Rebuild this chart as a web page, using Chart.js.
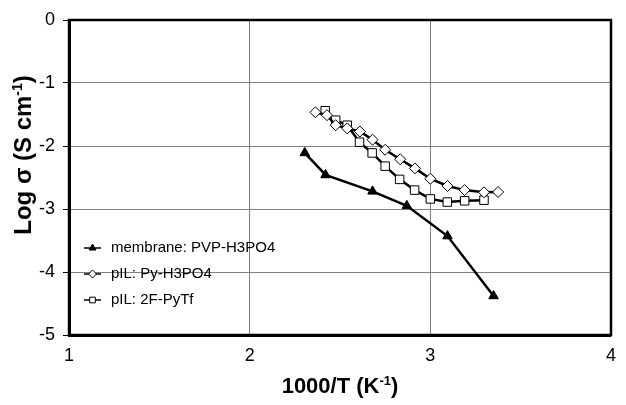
<!DOCTYPE html>
<html>
<head>
<meta charset="utf-8">
<script src="https://cdn.jsdelivr.net/npm/chart.js@4.4.0/dist/chart.umd.min.js"></script>
<style>
html, body { margin: 0; padding: 0; background: #fff; }
#wrap { width: 626px; height: 405px; }
</style>
</head>
<body>
<div id="wrap"><canvas id="chart"></canvas></div>
<script>
// membrane: PVP-H3PO4
var membraneX = [2.305, 2.42, 2.68, 2.87, 3.095, 3.35];
var membraneY = [-2.11, -2.46, -2.72, -2.95, -3.43, -4.38];
// pIL: Py-H3PO4
var pyX = [2.364, 2.428, 2.476, 2.54, 2.61, 2.68, 2.75, 2.833, 2.915, 3.0, 3.095, 3.19, 3.297, 3.375];
var pyY = [-1.465, -1.51, -1.67, -1.72, -1.77, -1.9, -2.06, -2.21, -2.355, -2.52, -2.635, -2.70, -2.735, -2.73];
// pIL: 2F-PyTf
var tfX = [2.418, 2.476, 2.54, 2.608, 2.678, 2.75, 2.83, 2.913, 3.0, 3.094, 3.19, 3.297];
var tfY = [-1.44, -1.59, -1.67, -1.94, -2.11, -2.32, -2.53, -2.70, -2.84, -2.89, -2.87, -2.86];

var seriesNames = ['membrane: PVP-H3PO4', 'pIL: Py-H3PO4', 'pIL: 2F-PyTf'];
var xTicks = [1, 2, 3, 4];
var yTicks = [-5, -4, -3, -2, -1, 0];

function pts(xs, ys) {
	var out = [];
	for (var i in xs) out.push({x: xs[i], y: ys[i]});
	return out;
}

var styles = [
	{pointStyle: 'triangle', bg: '#000', r: 5.5},
	{pointStyle: 'rectRot', bg: '#fff', r: 5.5},
	{pointStyle: 'rect', bg: '#fff', r: 6}
];

var FONT = "'Liberation Sans', Arial, sans-serif";

var extras = {
	id: 'extras',
	afterDraw: function(chart) {
		var ctx = chart.ctx;
		var a = chart.chartArea;
		ctx.save();
		// frame
		ctx.strokeStyle = '#000';
		ctx.lineWidth = 2.5;
		ctx.strokeRect(a.left, a.top, a.right - a.left, a.bottom - a.top);

		// legend
		var rows = [248, 274, 300];
		for (var i = 0; i < 3; i++) {
			var y = rows[i];
			ctx.strokeStyle = '#000';
			ctx.lineWidth = 1.5;
			ctx.beginPath();
			ctx.moveTo(84, y);
			ctx.lineTo(101, y);
			ctx.stroke();
			ctx.fillStyle = styles[i].bg;
			ctx.lineWidth = 1;
			Chart.helpers.drawPoint(ctx, {pointStyle: styles[i].pointStyle, radius: 4, rotation: 0, borderWidth: 1}, 92.5, y);
			ctx.fillStyle = '#000';
			ctx.font = '15px ' + FONT;
			ctx.textBaseline = 'middle';
			ctx.textAlign = 'left';
			ctx.fillText(seriesNames[i], 111, y);
		}

		// axis titles with superscripts
		function supTitle(main, sup, tail, size) {
			ctx.font = 'bold ' + size + 'px ' + FONT;
			var w1 = ctx.measureText(main).width;
			var w3 = ctx.measureText(tail).width;
			ctx.font = 'bold ' + Math.round(size * 0.6) + 'px ' + FONT;
			var w2 = ctx.measureText(sup).width;
			var x0 = -(w1 + w2 + w3) / 2;
			var base = size * 0.36;
			ctx.textAlign = 'left';
			ctx.textBaseline = 'alphabetic';
			ctx.fillStyle = '#000';
			ctx.font = 'bold ' + size + 'px ' + FONT;
			ctx.fillText(main, x0, base);
			ctx.font = 'bold ' + Math.round(size * 0.6) + 'px ' + FONT;
			ctx.fillText(sup, x0 + w1, base - size * 0.38);
			ctx.font = 'bold ' + size + 'px ' + FONT;
			ctx.fillText(tail, x0 + w1 + w2, base);
		}
		ctx.save();
		ctx.translate((a.left + a.right) / 2, 385);
		supTitle('1000/T (K', '-1', ')', 22);
		ctx.restore();
		ctx.save();
		ctx.translate(22, 155);
		ctx.rotate(-Math.PI / 2);
		supTitle('Log \u03c3 (S cm', '-1', ')', 24);
		ctx.restore();
		ctx.restore();
	}
};

var ctx = document.getElementById('chart');
var chart = new Chart(ctx, {
	type: 'line',
	data: {
		datasets: [
			{label: seriesNames[0], data: pts(membraneX, membraneY)},
			{label: seriesNames[1], data: pts(pyX, pyY)},
			{label: seriesNames[2], data: pts(tfX, tfY)}
		].map(function(d, i) {
			d.borderColor = '#000';
			d.borderWidth = 2.5;
			d.pointStyle = styles[i].pointStyle;
			d.pointRadius = styles[i].r;
			d.pointBackgroundColor = styles[i].bg;
			d.pointBorderColor = '#000';
			d.pointBorderWidth = 1;
			d.tension = 0;
			d.fill = false;
			return d;
		})
	},
	options: {
		responsive: true,
		maintainAspectRatio: false,
		animation: false,
		layout: {padding: {top: 20, right: 3, left: 0, bottom: 0}},
		plugins: {legend: {display: false}, tooltip: {enabled: false}},
		scales: {
			x: {
				type: 'linear',
				min: 1, max: 4,
				afterBuildTicks: function(s) { s.ticks = xTicks.map(function(v) { return {value: v}; }); },
				afterFit: function(s) { s.height = 70; },
				ticks: {color: '#000', font: {family: FONT, size: 18}, padding: 10, maxRotation: 0},
				grid: {color: '#808080', lineWidth: 1, drawTicks: false},
				border: {color: '#000', width: 3}
			},
			y: {
				type: 'linear',
				min: -5, max: 0,
				afterBuildTicks: function(s) { s.ticks = yTicks.map(function(v) { return {value: v}; }); },
				afterFit: function(s) { s.width = 69; },
				ticks: {color: '#000', font: {family: FONT, size: 18}, padding: 8},
				grid: {color: '#808080', lineWidth: 1, tickLength: 6, tickColor: '#000'},
				border: {color: '#000', width: 3}
			}
		}
	},
	plugins: [extras]
});
</script>
</body>
</html>
